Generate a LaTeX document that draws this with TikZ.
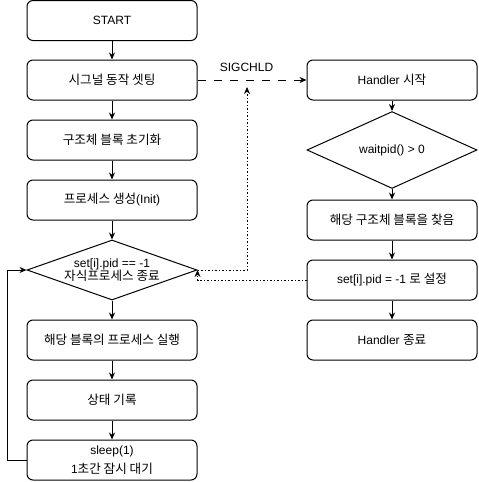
\documentclass[tikz,border=0pt]{standalone}
\usepackage{fontspec}
\setmainfont{Liberation Sans}
\newfontfamily\krfont[Scale=1.05]{Noto Sans CJK KR}
\newcommand{\kr}[1]{{\krfont #1}}
\usepackage{tikz}
\usetikzlibrary{arrows.meta,shapes.geometric,calc}

\begin{document}
\begin{tikzpicture}[x = 1pt, y = -1pt, font = \fontsize{12}{14}\selectfont,
    stepbox/.style = {draw, line width = 1pt, rounded corners = 6pt, minimum width = 170pt, minimum height = 40pt, align = center, inner sep = 0pt},
    testbox/.style = {draw, line width = 1pt, diamond, minimum width = 170pt, minimum height = 60pt, inner sep = 0pt},
    flow/.style = {-{Stealth[length = 7pt, width = 6pt]}, line width = 1pt}]
    \useasboundingbox (0,0) rectangle (479,482);
    % main loop
    \node[stepbox] (start) at (112,20.5) {START};
    \node[stepbox] (signal) at (112,80) {\kr{시그널 동작 셋팅}};
    \node[stepbox] (block) at (112,140) {\kr{구조체 블록 초기화}};
    \node[stepbox] (fork) at (112,200) {\kr{프로세스 생성}(Init)};
    \node[testbox, label = {[align = center, font = \fontsize{12}{13}\selectfont]center:set[i].pid == -1\\\kr{자식프로세스 종료}}] (check) at (112,270) {};
    \node[stepbox] (run) at (112,340) {\kr{해당 블록의 프로세스 실행}};
    \node[stepbox] (log) at (112,400) {\kr{상태 기록}};
    \node[stepbox, font = \fontsize{12}{19}\selectfont] (sleep) at (112,460) {sleep(1)\\1\kr{초간 잠시 대기}};
    % handler
    \node[stepbox] (hstart) at (392,80) {Handler \kr{시작}};
    \node[testbox] (wait) at (392,150) {waitpid() \textgreater{} 0};
    \node[stepbox] (find) at (392,220) {\kr{해당 구조체 블록을 찾음}};
    \node[stepbox] (setpid) at (392,280) {set[i].pid = -1 \kr{로 설정}};
    \node[stepbox] (hend) at (392,340) {Handler \kr{종료}};
    \coordinate (loop) at (7,460);
    \coordinate (sigtip) at (247,87);
    \draw[flow] (start) -- (signal);
    \draw[flow] (signal) -- (block);
    \draw[flow] (block) -- (fork);
    \draw[flow] (fork) -- (check);
    \draw[flow] (check) -- (run);
    \draw[flow] (run) -- (log);
    \draw[flow] (log) -- (sleep);
    \draw[flow] (sleep.west) -- (loop) |- (check.west);
    \draw[flow] (hstart) -- (wait);
    \draw[flow] (wait) -- (find);
    \draw[flow] (find) -- (setpid);
    \draw[flow] (setpid) -- (hend);
    % signals
    \draw[flow, dash pattern = on 8pt off 8pt] (signal.east) -- node[above = 5pt, pos = .45] (sigchld) {SIGCHLD} (hstart.west);
    \draw[flow, line width = .8pt, dash pattern = on 1.5pt off 2pt] (check.east) -| (sigtip);
    \draw[flow, line width = .8pt, dash pattern = on 1.5pt off 2pt] (setpid.west) -| (check.east);
\end{tikzpicture}
\end{document}
